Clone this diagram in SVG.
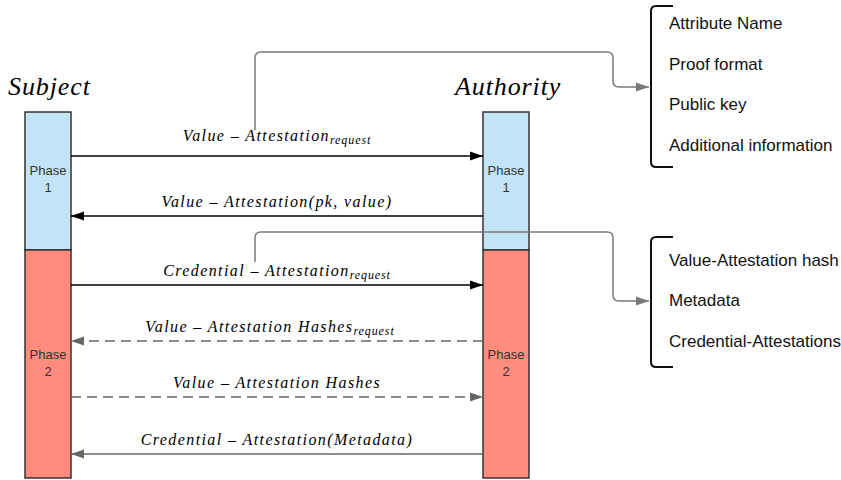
<svg xmlns="http://www.w3.org/2000/svg" width="841" height="480" viewBox="0 0 841 480">
<defs>
<marker id="ab" markerUnits="userSpaceOnUse" markerWidth="13" markerHeight="10" refX="13" refY="5" orient="auto"><path d="M0,0.5 L13,5 L0,9.5 z" fill="#000"/></marker>
<marker id="ag" markerUnits="userSpaceOnUse" markerWidth="13" markerHeight="10" refX="13" refY="5" orient="auto"><path d="M0,0.5 L13,5 L0,9.5 z" fill="#666"/></marker>
<marker id="ac" markerUnits="userSpaceOnUse" markerWidth="13" markerHeight="10" refX="13" refY="5" orient="auto"><path d="M0,0.5 L13,5 L0,9.5 z" fill="#7a7a7a"/></marker>
</defs>
<style>
.title{font-family:"Liberation Serif",serif;font-style:italic;font-size:26px;letter-spacing:0.9px;fill:#000}
.ph{font-family:"Liberation Sans",Arial,sans-serif;font-size:13px;fill:#333;text-anchor:middle}
.blue{fill:#c3e4f6;stroke:#333;stroke-width:1.5}
.red{fill:#ff8c7d;stroke:#333;stroke-width:1.5}
.m{font-family:"Liberation Serif",serif;font-style:italic;font-size:16px;letter-spacing:1.4px;fill:#000;text-anchor:middle}
.sub{font-size:12px;letter-spacing:0.9px}
.list{font-family:"Liberation Sans",Arial,sans-serif;font-size:17px;fill:#111}
.sb{stroke:#000;stroke-width:1.5;fill:none}
.sg{stroke:#666;stroke-width:1.5;fill:none}
.dash{stroke-dasharray:10 6}
.conn{stroke:#7a7a7a;stroke-width:1.5;fill:none}
.br{stroke:#111;stroke-width:2;fill:none}
</style>
<g id="subject">
<text class="title" x="8" y="95">Subject</text>
<rect class="blue" x="25" y="112" width="46" height="138"/>
<rect class="red" x="25" y="250" width="46" height="228"/>
<text class="ph" x="48" y="175">Phase</text><text class="ph" x="48" y="192">1</text>
<text class="ph" x="48" y="359">Phase</text><text class="ph" x="48" y="376">2</text>
</g>
<g id="authority">
<text class="title" x="455" y="95">Authority</text>
<rect class="blue" x="483" y="112" width="46" height="138"/>
<rect class="red" x="483" y="250" width="46" height="228"/>
<text class="ph" x="506" y="175">Phase</text><text class="ph" x="506" y="192">1</text>
<text class="ph" x="506" y="359">Phase</text><text class="ph" x="506" y="376">2</text>
</g>
<g id="list1">
<path class="br" d="M673,6 H656 Q651,6 651,11 V162 Q651,167 656,167 H673"/>
<text class="list" x="669" y="29">Attribute Name</text>
<text class="list" x="669" y="70">Proof format</text>
<text class="list" x="669" y="110">Public key</text>
<text class="list" x="669" y="151">Additional information</text>
</g>
<g id="list2">
<path class="br" d="M673,237 H656 Q651,237 651,242 V362 Q651,367 656,367 H673"/>
<text class="list" x="669" y="266">Value-Attestation hash</text>
<text class="list" x="669" y="306">Metadata</text>
<text class="list" x="669" y="347">Credential-Attestations</text>
</g>
<g id="connectors">
<path class="conn" d="M255,130 V58 Q255,52 261,52 H607 Q613,52 613,58 V81 Q613,87 619,87 H649" marker-end="url(#ac)"/>
<path class="conn" d="M255,262 V238 Q255,232 261,232 H607 Q613,232 613,238 V295 Q613,301 619,301 H649" marker-end="url(#ac)"/>
<line class="sb" x1="71" y1="156" x2="483" y2="156" marker-end="url(#ab)"/>
<line class="sb" x1="483" y1="216" x2="71" y2="216" marker-end="url(#ab)"/>
<line class="sb" x1="71" y1="285" x2="483" y2="285" marker-end="url(#ab)"/>
<line class="sg dash" x1="483" y1="341" x2="71" y2="341" marker-end="url(#ag)"/>
<line class="sg dash" x1="71" y1="397" x2="483" y2="397" marker-end="url(#ag)"/>
<line class="sg" x1="483" y1="454" x2="71" y2="454" marker-end="url(#ag)"/>
<text class="m" x="277" y="141">Value – Attestation<tspan class="sub" dy="3">request</tspan></text>
<text class="m" x="277" y="207">Value – Attestation(pk, value)</text>
<text class="m" x="277" y="276">Credential – Attestation<tspan class="sub" dy="3">request</tspan></text>
<text class="m" x="270" y="332">Value – Attestation Hashes<tspan class="sub" dy="3">request</tspan></text>
<text class="m" x="277" y="388">Value – Attestation Hashes</text>
<text class="m" x="277" y="445">Credential – Attestation(Metadata)</text>
</g>
</svg>
